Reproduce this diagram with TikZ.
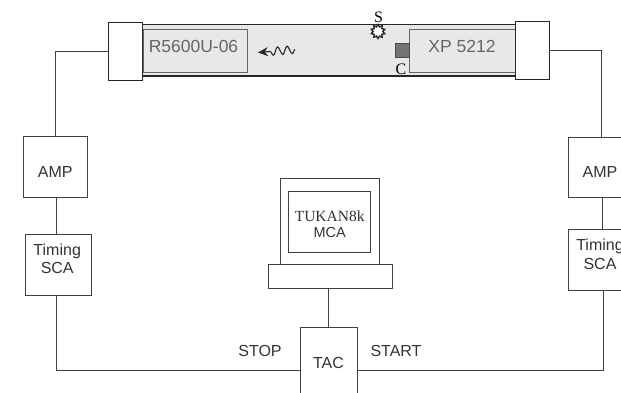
\documentclass[tikz,border=0pt]{standalone}
\usepackage{fontspec}
\setmainfont{Liberation Sans}
\newfontfamily\serifface{Liberation Serif}
\usepackage{tikz}
\usetikzlibrary{arrows.meta,decorations.pathmorphing,shapes.geometric}
\definecolor{wire}{gray}{0.25}
\definecolor{tubefill}{gray}{0.91}
\tikzset{
  unit/.style={draw=wire, fill=white, line width=0.9pt, inner sep=0pt, align=center, font=\fontsize{16}{18.5}\selectfont, text=black!80},
  endcap/.style={unit, draw=black!85, minimum width=34pt, minimum height=58pt},
  pmt/.style={unit, fill=tubefill, draw=black!60, text=black!60, font=\fontsize{17.5}{18}\selectfont, minimum width=#1, minimum height=43pt},
  tag/.style={inner sep=0pt, font=\fontsize{16}{18.5}\selectfont, text=black!80},
  smalltag/.style={inner sep=0pt, font=\serifface\fontsize{16}{16}\selectfont, text=black},
  link/.style={draw=wire, line width=0.9pt}
}
\newcommand{\lifted}[2]{\raisebox{#1}[0pt][0pt]{\begin{tabular}{@{}c@{}}#2\end{tabular}}}
\begin{document}
\begin{tikzpicture}[x=1pt,y=-1pt]
\clip (0,0) rectangle (621,393);
% tube with both tubes inside
\node[draw=black!85, fill=tubefill, line width=1.2pt, inner sep=0pt, minimum width=373pt, minimum height=51.5pt] (tube) at (329,50.3) {};
\node[pmt=104pt] (pmtL) at (195,50.8) {\lifted{-2.5pt}{\hspace*{-3pt}R5600U-06}};
\node[pmt=106pt] (pmtR) at (462,50.8) {\lifted{-2.5pt}{XP 5212}};
\node[draw=black!70, fill=black!55, line width=0.8pt, inner sep=0pt, minimum size=14pt] (crystal) at (402.8,50) {};
\node[smalltag] (clabel) at (401,69) {C};
\node[star, star points=10, star point ratio=1.45, minimum size=14pt, inner sep=0pt, draw=black!85, fill=white, line width=1.4pt] (source) at (378,31.5) {};
\node[smalltag] (slabel) at (378.5,17.5) {S};
\coordinate (photonA) at (295,49.5);
\coordinate (photonB) at (258,52.5);
\draw[link, line width=1.1pt, -{Stealth[length=10pt,width=9pt]}, black!85, decorate, decoration={snake, amplitude=4pt, segment length=9.5pt, post length=9pt}] (photonA) -- (photonB);
\node[endcap] (capL) at (125.6,51) {};
\node[endcap] (capR) at (532,50.5) {};
% left and right chains
\node[unit, minimum width=64.5pt, minimum height=60.5pt] (ampL) at (55.2,167) {\lifted{-10.7pt}{AMP}};
\node[unit, minimum width=65.5pt, minimum height=61.5pt] (scaL) at (58.2,265) {\lifted{0pt}{\hspace*{-2pt}Timing\\\hspace*{-2pt}SCA}};
\node[unit, minimum width=64pt, minimum height=60pt] (ampR) at (600,167) {\lifted{-10.7pt}{AMP}};
\node[unit, minimum width=64pt, minimum height=61.5pt] (scaR) at (600,260) {\lifted{-0.5pt}{Timing\\SCA}};
\node[unit, minimum width=57pt, minimum height=71pt] (tac) at (328.5,362.5) {TAC};
% computer
\node[unit, font=\fontsize{14.5}{16}\selectfont, minimum width=99pt, minimum height=86pt] (monitor) at (329.5,221) {};
\node[unit, font=\fontsize{14.5}{16}\selectfont, minimum width=82pt, minimum height=61.5pt] (screen) at (329.7,222) {\lifted{-7.7pt}{{\serifface\fontsize{15.5}{16}\selectfont TUKAN8k}\\MCA}};
\node[unit, minimum width=124pt, minimum height=24pt] (keyboard) at (330,276) {};
\node[tag] (stop) at (260,351) {STOP};
\node[tag] (start) at (396,351) {START};
% wires
\draw[link] (capL.west) -| (ampL.north);
\draw[link] (capR.east) -| ([xshift=1pt]ampR.north);
\draw[link] ([xshift=-1.5pt]scaL.north) -- ([xshift=-1.5pt]scaL.north |- ampL.south);
\draw[link] ([xshift=2pt]ampR.south) -- ([xshift=2pt]ampR.south |- scaR.north);
\draw[link] ([xshift=-1.5pt]scaL.south) |- ([yshift=-7.5pt]tac.west);
\draw[link] ([xshift=3pt]scaR.south) |- ([yshift=-7.5pt]tac.east);
\draw[link] (keyboard.south -| tac.north) -- (tac.north);
\end{tikzpicture}
\end{document}
